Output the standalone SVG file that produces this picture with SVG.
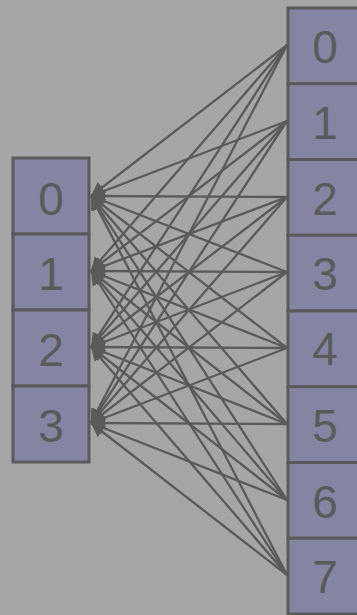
<svg xmlns="http://www.w3.org/2000/svg" width="357" height="615" viewBox="0 0 357 615">
<style>
.bg{fill:#a6a6a6}
.box{fill:#8585a3;stroke:#5a5a5a;stroke-width:3}
.t{font-family:"Liberation Sans",Arial,sans-serif;font-size:46px;fill:#5a5a5a;text-anchor:middle}
.e{stroke:#5a5a5a;stroke-width:2.3;fill:none;marker-end:url(#ah)}
</style>
<defs>
<marker id="ah" viewBox="0 0 10 10" refX="10" refY="5" markerWidth="6" markerHeight="6" orient="auto" markerUnits="strokeWidth">
<path d="M0,0 L10,5 L0,10 z" fill="#5a5a5a"/>
</marker>
</defs>
<rect class="bg" x="0" y="0" width="357" height="615"/>
<g id="edges">
<line class="e" x1="287" y1="45" x2="91" y2="196"/>
<line class="e" x1="287" y1="121" x2="91" y2="196"/>
<line class="e" x1="287" y1="197" x2="91" y2="196"/>
<line class="e" x1="287" y1="272" x2="91" y2="196"/>
<line class="e" x1="287" y1="348" x2="91" y2="196"/>
<line class="e" x1="287" y1="424" x2="91" y2="196"/>
<line class="e" x1="287" y1="500" x2="91" y2="196"/>
<line class="e" x1="287" y1="575" x2="91" y2="196"/>
<line class="e" x1="287" y1="45" x2="91" y2="271"/>
<line class="e" x1="287" y1="121" x2="91" y2="271"/>
<line class="e" x1="287" y1="197" x2="91" y2="271"/>
<line class="e" x1="287" y1="272" x2="91" y2="271"/>
<line class="e" x1="287" y1="348" x2="91" y2="271"/>
<line class="e" x1="287" y1="424" x2="91" y2="271"/>
<line class="e" x1="287" y1="500" x2="91" y2="271"/>
<line class="e" x1="287" y1="575" x2="91" y2="271"/>
<line class="e" x1="287" y1="45" x2="91" y2="347"/>
<line class="e" x1="287" y1="121" x2="91" y2="347"/>
<line class="e" x1="287" y1="197" x2="91" y2="347"/>
<line class="e" x1="287" y1="272" x2="91" y2="347"/>
<line class="e" x1="287" y1="348" x2="91" y2="347"/>
<line class="e" x1="287" y1="424" x2="91" y2="347"/>
<line class="e" x1="287" y1="500" x2="91" y2="347"/>
<line class="e" x1="287" y1="575" x2="91" y2="347"/>
<line class="e" x1="287" y1="45" x2="91" y2="423"/>
<line class="e" x1="287" y1="121" x2="91" y2="423"/>
<line class="e" x1="287" y1="197" x2="91" y2="423"/>
<line class="e" x1="287" y1="272" x2="91" y2="423"/>
<line class="e" x1="287" y1="348" x2="91" y2="423"/>
<line class="e" x1="287" y1="424" x2="91" y2="423"/>
<line class="e" x1="287" y1="500" x2="91" y2="423"/>
<line class="e" x1="287" y1="575" x2="91" y2="423"/>
</g>
<g id="L0"><rect class="box" x="13" y="158" width="76" height="76"/><text class="t" x="51" y="215">0</text></g>
<g id="L1"><rect class="box" x="13" y="234" width="76" height="76"/><text class="t" x="51" y="290">1</text></g>
<g id="L2"><rect class="box" x="13" y="310" width="76" height="76"/><text class="t" x="51" y="366">2</text></g>
<g id="L3"><rect class="box" x="13" y="386" width="76" height="76"/><text class="t" x="51" y="442">3</text></g>
<g id="R0"><rect class="box" x="288" y="8" width="76" height="75.75"/><text class="t" x="325" y="63">0</text></g>
<g id="R1"><rect class="box" x="288" y="83.75" width="76" height="75.75"/><text class="t" x="325" y="139">1</text></g>
<g id="R2"><rect class="box" x="288" y="159.5" width="76" height="75.75"/><text class="t" x="325" y="215">2</text></g>
<g id="R3"><rect class="box" x="288" y="235.25" width="76" height="75.75"/><text class="t" x="325" y="290">3</text></g>
<g id="R4"><rect class="box" x="288" y="311" width="76" height="75.75"/><text class="t" x="325" y="365">4</text></g>
<g id="R5"><rect class="box" x="288" y="386.75" width="76" height="75.75"/><text class="t" x="325" y="442">5</text></g>
<g id="R6"><rect class="box" x="288" y="462.5" width="76" height="75.75"/><text class="t" x="325" y="518">6</text></g>
<g id="R7"><rect class="box" x="288" y="538.25" width="76" height="75.75"/><text class="t" x="325" y="593">7</text></g>
</svg>
